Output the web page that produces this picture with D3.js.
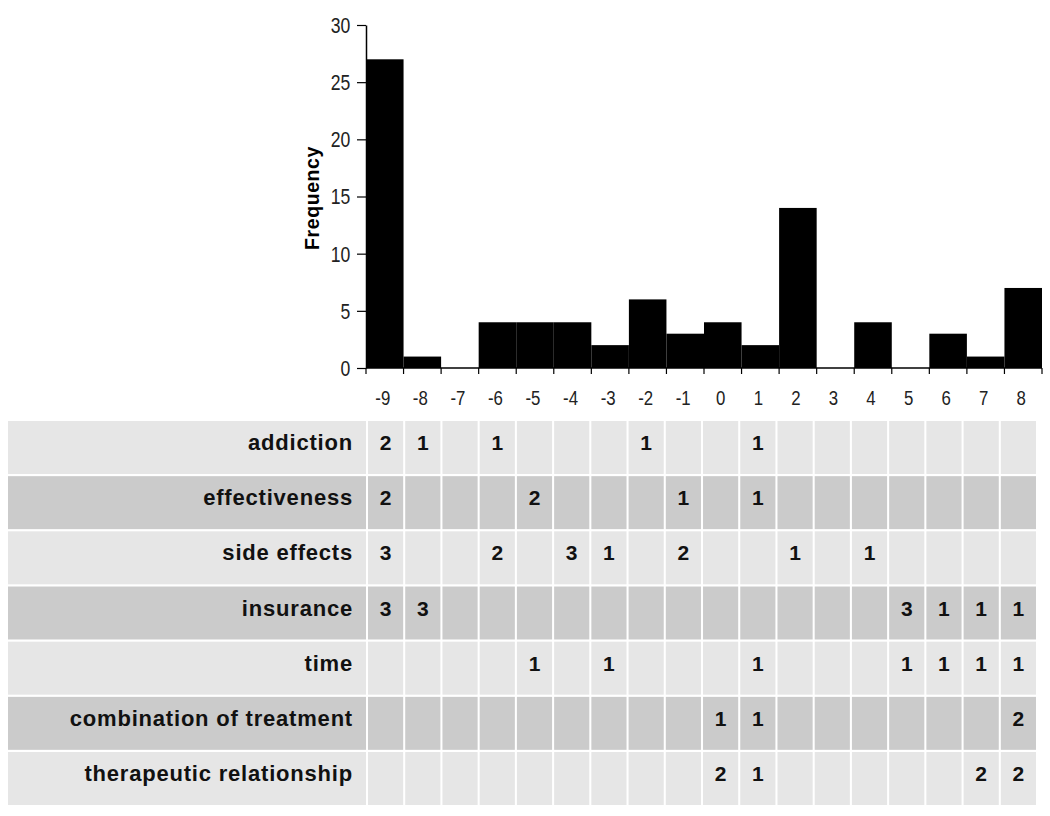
<!DOCTYPE html>
<html>
<head>
<meta charset="utf-8">
<script src="https://cdn.jsdelivr.net/npm/d3@7"></script>
<style>
  html, body { margin: 0; padding: 0; background: #ffffff; }
  svg { display: block; }
</style>
</head>
<body>
<svg id="chart" width="1050" height="816"></svg>
<script>
// ---- data ----
const bins = [-9, -8, -7, -6, -5, -4, -3, -2, -1, 0, 1, 2, 3, 4, 5, 6, 7, 8];
const frequency = [27, 1, 0, 4, 4, 4, 2, 6, 3, 4, 2, 14, 0, 4, 0, 3, 1, 7];
const yTicks = [0, 5, 10, 15, 20, 25, 30];
const categories = ["addiction", "effectiveness", "side effects", "insurance", "time",
                    "combination of treatment", "therapeutic relationship"];
// table counts per category, aligned with bins (null = empty cell)
const addiction     = [2, 1, null, 1, null, null, null, 1, null, null, 1, null, null, null, null, null, null, null];
const effectiveness = [2, null, null, null, 2, null, null, null, 1, null, 1, null, null, null, null, null, null, null];
const sideEffects   = [3, null, null, 2, null, 3, 1, null, 2, null, null, 1, null, 1, null, null, null, null];
const insurance     = [3, 3, null, null, null, null, null, null, null, null, null, null, null, null, 3, 1, 1, 1];
const time          = [null, null, null, null, 1, null, 1, null, null, null, 1, null, null, null, 1, 1, 1, 1];
const combination   = [null, null, null, null, null, null, null, null, null, 1, 1, null, null, null, null, null, null, 2];
const therapeutic   = [null, null, null, null, null, null, null, null, null, 2, 1, null, null, null, null, null, 2, 2];
const tableRows = [addiction, effectiveness, sideEffects, insurance, time, combination, therapeutic];

// ---- layout ----
const FONT = "Arial, 'Liberation Sans', sans-serif";
const svg = d3.select("#chart");
const plot = { left: 366, right: 1042, top: 25, bottom: 368 };

const x = d3.scaleBand().domain(bins).range([plot.left, plot.right]).padding(0);
const y = d3.scaleLinear().domain([0, 30]).range([plot.bottom, plot.top]);

// bars
svg.append("g").selectAll("rect")
  .data(bins.map((b, i) => ({ bin: b, value: frequency[i] })))
  .join("rect")
  .attr("x", d => x(d.bin))
  .attr("y", d => y(d.value))
  .attr("width", x.bandwidth())
  .attr("height", d => y(0) - y(d.value))
  .attr("fill", "#000");

// y axis
const yAxis = svg.append("g")
  .attr("transform", `translate(${plot.left},0)`)
  .call(d3.axisLeft(y).tickValues(yTicks).tickSize(9).tickSizeOuter(0));
yAxis.select(".domain").attr("stroke", "#000").attr("stroke-width", 1.5);
yAxis.selectAll(".tick line").attr("stroke", "#000").attr("stroke-width", 1.2);
yAxis.selectAll(".tick text")
  .attr("font-family", FONT)
  .attr("font-size", 22)
  .attr("fill", "#222")
  .attr("x", -19.5)
  .attr("dy", "0.34em")
  .attr("transform", "scale(0.8,1)");

// x axis: ticks at bin edges, labels at bin centres
const xAxisG = svg.append("g").attr("transform", `translate(0,${plot.bottom})`);
xAxisG.append("line")
  .attr("x1", plot.left).attr("x2", plot.right)
  .attr("y1", 0).attr("y2", 0)
  .attr("stroke", "#000").attr("stroke-width", 1.5);
const edges = bins.map(b => x(b)).concat([x(bins[bins.length - 1]) + x.bandwidth()]);
xAxisG.selectAll("line.edge")
  .data(edges)
  .join("line")
  .attr("class", "edge")
  .attr("x1", d => d).attr("x2", d => d)
  .attr("y1", 0).attr("y2", 6)
  .attr("stroke", "#000").attr("stroke-width", 1.2);
xAxisG.selectAll("text")
  .data(bins)
  .join("text")
  .attr("transform", d => `translate(${x(d) + x.bandwidth() / 2 - 2},37) scale(0.8,1)`)
  .attr("text-anchor", "middle")
  .attr("font-family", FONT)
  .attr("font-size", 21)
  .attr("fill", "#222")
  .text(d => d);

// y title
svg.append("text")
  .attr("transform", `translate(319,198) rotate(-90)`)
  .attr("text-anchor", "middle")
  .attr("font-family", FONT)
  .attr("font-weight", "bold")
  .attr("font-size", 19.5)
  .attr("letter-spacing", 0.6)
  .attr("fill", "#000")
  .text("Frequency");

// ---- table ----
const tx = d3.scaleBand().domain(bins).range([368, 1036]).paddingInner(0.055).paddingOuter(0);
const ty = d3.scaleBand().domain(categories).range([421, 805]).paddingInner(0.04).paddingOuter(0);
const rowFill = (i) => (i % 2 === 0 ? "#e6e6e6" : "#cbcbcb");

const rowsG = svg.append("g").selectAll("g.row")
  .data(categories.map((c, i) => ({ cat: c, idx: i, values: tableRows[i] })))
  .join("g")
  .attr("class", "row");

rowsG.append("rect")
  .attr("x", 8)
  .attr("y", d => ty(d.cat))
  .attr("width", 366 - 8)
  .attr("height", ty.bandwidth())
  .attr("fill", d => rowFill(d.idx));

rowsG.append("text")
  .attr("x", 353)
  .attr("y", d => ty(d.cat) + 29)
  .attr("text-anchor", "end")
  .attr("font-family", FONT)
  .attr("font-weight", "bold")
  .attr("font-size", 22)
  .attr("letter-spacing", 0.8)
  .attr("fill", "#111")
  .text(d => d.cat);

rowsG.each(function(d) {
  const g = d3.select(this);
  const cells = bins.map((b, j) => ({ bin: b, v: d.values[j] }));
  g.selectAll("rect.cell")
    .data(cells)
    .join("rect")
    .attr("class", "cell")
    .attr("x", c => tx(c.bin))
    .attr("y", ty(d.cat))
    .attr("width", tx.bandwidth())
    .attr("height", ty.bandwidth())
    .attr("fill", rowFill(d.idx));
  g.selectAll("text.val")
    .data(cells.filter(c => c.v !== null))
    .join("text")
    .attr("class", "val")
    .attr("x", c => tx(c.bin) + tx.bandwidth() / 2)
    .attr("y", ty(d.cat) + 29)
    .attr("text-anchor", "middle")
    .attr("font-family", FONT)
    .attr("font-weight", "bold")
    .attr("font-size", 21)
    .attr("fill", "#111")
    .text(c => c.v);
});
</script>
</body>
</html>
